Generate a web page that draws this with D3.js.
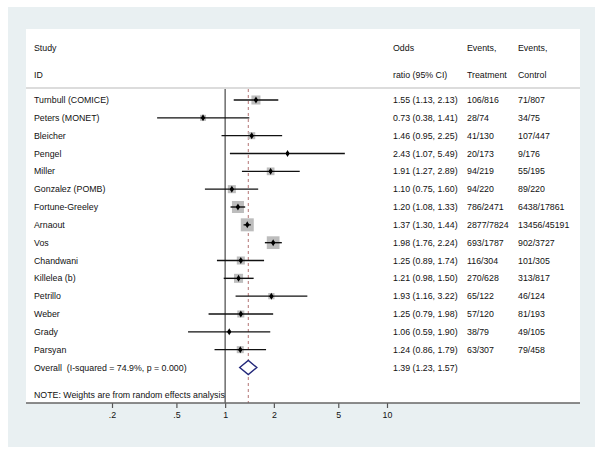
<!DOCTYPE html>
<html>
<head>
<meta charset="utf-8">
<script src="https://cdn.jsdelivr.net/npm/d3@7"></script>
<style>
html,body{margin:0;padding:0;background:#fff;}
svg{display:block;font-family:"Liberation Sans",Arial,Helvetica,sans-serif;}
</style>
</head>
<body>
<svg id="chart" width="603" height="455"></svg>
<script>
const studies = ["Turnbull (COMICE)","Peters (MONET)","Bleicher","Pengel","Miller","Gonzalez (POMB)","Fortune-Greeley","Arnaout","Vos","Chandwani","Killelea (b)","Petrillo","Weber","Grady","Parsyan"];
const oddsRatio = [1.55,0.73,1.46,2.43,1.91,1.10,1.20,1.37,1.98,1.25,1.21,1.93,1.25,1.06,1.24];
const ciLower  = [1.13,0.38,0.95,1.07,1.27,0.75,1.08,1.30,1.76,0.89,0.98,1.16,0.79,0.59,0.86];
const ciUpper  = [2.13,1.41,2.25,5.49,2.89,1.60,1.33,1.44,2.24,1.74,1.50,3.22,1.98,1.90,1.79];
const eventsTreatment = ["106/816","28/74","41/130","20/173","94/219","94/220","786/2471","2877/7824","693/1787","116/304","270/628","65/122","57/120","38/79","63/307"];
const eventsControl = ["71/807","34/75","107/447","9/176","55/195","89/220","6438/17861","13456/45191","902/3727","101/305","313/817","46/124","81/193","49/105","79/458"];
const weights = [6.3,2.8,3.8,0.5,4.6,5.0,11.1,13.0,12.5,5.0,6.3,3.0,3.8,0.8,3.8];
const overall = {label:"Overall  (I-squared = 74.9%, p = 0.000)", or:1.39, lo:1.23, hi:1.57};
const tickValues = [0.2,0.5,1,2,5,10];
const tickLabels = [".2",".5","1","2","5","10"];
const headers = [["Study","ID"],["Odds","ratio (95% CI)"],["Events,","Treatment"],["Events,","Control"]];
const note = "NOTE: Weights are from random effects analysis";

const fmt = d3.format(".2f");
const svg = d3.select("#chart");

// backgrounds
svg.append("rect").attr("x",8).attr("y",7).attr("width",587).attr("height",440).attr("fill","#e9f0f2");
svg.append("rect").attr("x",26).attr("y",29).attr("width",554).attr("height",374).attr("fill","#ffffff");

const x = d3.scaleLog().domain([0.2,10]).range([112,387]);
const y = d3.scaleLinear().domain([0,15]).range([100,367.5]);
const colX = [34,393,467,518];
const txtColor = "#111";
const fs = 8.8;

// header
headers.forEach((h,i)=>{
  h.forEach((t,j)=>{
    svg.append("text").attr("x",colX[i]).attr("y",j?75:48).attr("dy","0.35em")
      .attr("font-size",fs).attr("fill",txtColor).text(t);
  });
});
svg.append("line").attr("x1",26).attr("x2",580).attr("y1",88).attr("y2",88)
  .attr("stroke","#dcdcdc").attr("stroke-width",2);

// null line
svg.append("line").attr("x1",x(1)).attr("x2",x(1)).attr("y1",89).attr("y2",403)
  .attr("stroke","#555").attr("stroke-width",1.3);
// overall dashed line
svg.append("line").attr("x1",x(overall.or)).attr("x2",x(overall.or)).attr("y1",89).attr("y2",403)
  .attr("stroke","#b37373").attr("stroke-width",1).attr("stroke-dasharray","3,3");

const side = d3.scaleSqrt().domain([0,13]).range([0,13]);

const g = svg.append("g");
studies.forEach((s,i)=>{
  const yy = y(i);
  const w = side(weights[i]);
  g.append("rect").attr("x",x(oddsRatio[i])-w/2).attr("y",yy-w/2).attr("width",w).attr("height",w).attr("fill","#bdbdbd");
  g.append("line").attr("x1",x(ciLower[i])).attr("x2",x(ciUpper[i])).attr("y1",yy).attr("y2",yy)
    .attr("stroke","#111").attr("stroke-width",1.4);
  g.append("path").attr("d",d3.symbol(d3.symbolDiamond,14)()).attr("transform",`translate(${x(oddsRatio[i])},${yy})`).attr("fill","#000");
  g.append("circle").attr("cx",x(oddsRatio[i])).attr("cy",yy).attr("r",1.7).attr("fill","#000");
  const texts = [s, `${fmt(oddsRatio[i])} (${fmt(ciLower[i])}, ${fmt(ciUpper[i])})`, eventsTreatment[i], eventsControl[i]];
  texts.forEach((t,k)=>{
    g.append("text").attr("x",colX[k]).attr("y",yy).attr("dy","0.35em").attr("font-size",fs).attr("fill",txtColor).text(t);
  });
});

// overall
const yo = y(15);
svg.append("path")
  .attr("d",`M${x(overall.lo)},${yo} L${x(overall.or)},${yo-7} L${x(overall.hi)},${yo} L${x(overall.or)},${yo+7} Z`)
  .attr("fill","#fff").attr("stroke","#23287a").attr("stroke-width",1.4);
svg.append("text").attr("x",colX[0]).attr("y",yo).attr("dy","0.35em").attr("font-size",fs).attr("fill",txtColor)
  .style("white-space","pre").text(overall.label);
svg.append("text").attr("x",colX[1]).attr("y",yo).attr("dy","0.35em").attr("font-size",fs).attr("fill",txtColor)
  .text(`${fmt(overall.or)} (${fmt(overall.lo)}, ${fmt(overall.hi)})`);

svg.append("text").attr("x",colX[0]).attr("y",395).attr("dy","0.35em").attr("font-size",fs).attr("fill",txtColor).text(note);

// axis
const axis = d3.axisBottom(x).tickValues(tickValues).tickFormat((d,i)=>tickLabels[i]).tickSize(5).tickSizeOuter(0);
const ax = svg.append("g").attr("transform","translate(0,403)").call(axis);
ax.select(".domain").remove();
ax.selectAll(".tick line").attr("stroke","#555").attr("stroke-width",1.2);
ax.selectAll(".tick text").attr("font-size",fs).attr("fill",txtColor).attr("font-family","Liberation Sans, Arial, sans-serif").attr("y",9);
svg.append("line").attr("x1",26).attr("x2",580).attr("y1",403).attr("y2",403).attr("stroke","#666").attr("stroke-width",1.5);
</script>
</body>
</html>
